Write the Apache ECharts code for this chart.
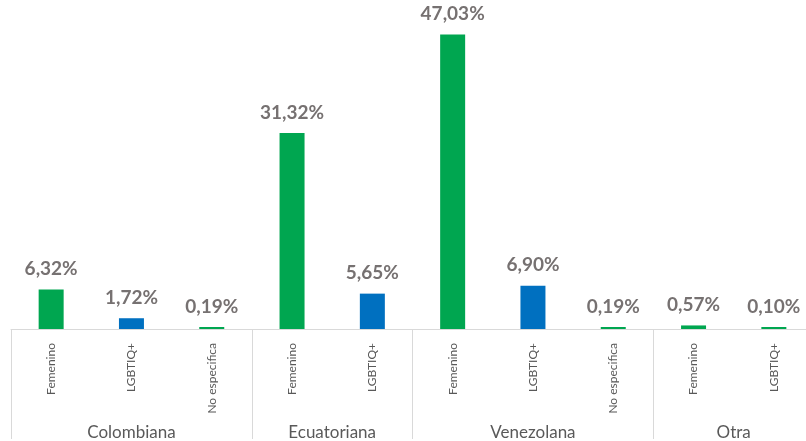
<!DOCTYPE html>
<html>
<head>
<meta charset="utf-8">
<script src="https://cdn.jsdelivr.net/npm/echarts@6/dist/echarts.min.js"></script>
<style>
  html, body { margin: 0; padding: 0; background: #fff; overflow: hidden; }
  #chart { width: 817px; height: 441px; }
</style>
</head>
<body>
<div id="chart"></div>
<script>
// nacionalidad -> categorías, porcentajes y color de cada barra
const groups = ['Colombiana', 'Ecuatoriana', 'Venezolana', 'Otra'];
const subcats = [
  ['Femenino', 'LGBTIQ+', 'No especifica'],
  ['Femenino', 'LGBTIQ+'],
  ['Femenino', 'LGBTIQ+', 'No especifica'],
  ['Femenino', 'LGBTIQ+']
];
const values = [
  [6.32, 1.72, 0.19],
  [31.32, 5.65],
  [47.03, 6.90, 0.19],
  [0.57, 0.10]
];
const GREEN = '#00A650';
const BLUE = '#0070C0';
const barColors = [
  [GREEN, BLUE, GREEN],
  [GREEN, BLUE],
  [GREEN, BLUE, GREEN],
  [GREEN, GREEN]
];

let cats = [];
let barData = [];
let groupStarts = [];
let groupCenters = {};
groups.forEach(function (g, gi) {
  groupStarts.push(cats.length);
  groupCenters[(cats.length + subcats[gi].length / 2).toFixed(1)] = g;
  subcats[gi].forEach(function (s, si) {
    cats.push(s);
    barData.push({ value: values[gi][si], itemStyle: { color: barColors[gi][si] } });
  });
});

let myChart = echarts.init(document.getElementById('chart'));
let option = {
  animation: false,
  grid: { left: 11, right: 0, top: 16, bottom: 110 },
  xAxis: [{
    type: 'category',
    data: cats,
    axisLine: { lineStyle: { color: '#d9d9d9', width: 1 } },
    axisTick: {
      show: true,
      length: 110,
      interval: function (index) { return groupStarts.indexOf(index) !== -1; },
      lineStyle: { color: '#d9d9d9' }
    },
    axisLabel: {
      interval: 0,
      rotate: 90,
      margin: 14,
      fontFamily: 'Lato',
      fontSize: 12,
      color: '#595959'
    }
  }, {
    // nivel de nacionalidad
    type: 'value',
    position: 'bottom',
    min: 0,
    max: cats.length,
    interval: 0.5,
    axisLine: { show: false },
    axisTick: { show: false },
    splitLine: { show: false },
    axisLabel: {
      margin: 95,
      fontFamily: 'Lato',
      fontSize: 17,
      color: '#595959',
      formatter: function (v) { return groupCenters[v.toFixed(1)] || ''; }
    }
  }],
  yAxis: {
    type: 'value',
    min: 0,
    max: 50,
    show: false,
    splitLine: { show: false }
  },
  series: [{
    type: 'bar',
    xAxisIndex: 0,
    barWidth: 25,
    barMinHeight: 2,
    data: barData,
    label: {
      show: true,
      position: 'top',
      distance: 11,
      fontFamily: 'Lato',
      fontSize: 19,
      fontWeight: 'bold',
      color: '#767171',
      formatter: function (p) { return p.value.toFixed(2).replace('.', ',') + '%'; }
    }
  }]
};
myChart.setOption(option);
</script>
</body>
</html>
